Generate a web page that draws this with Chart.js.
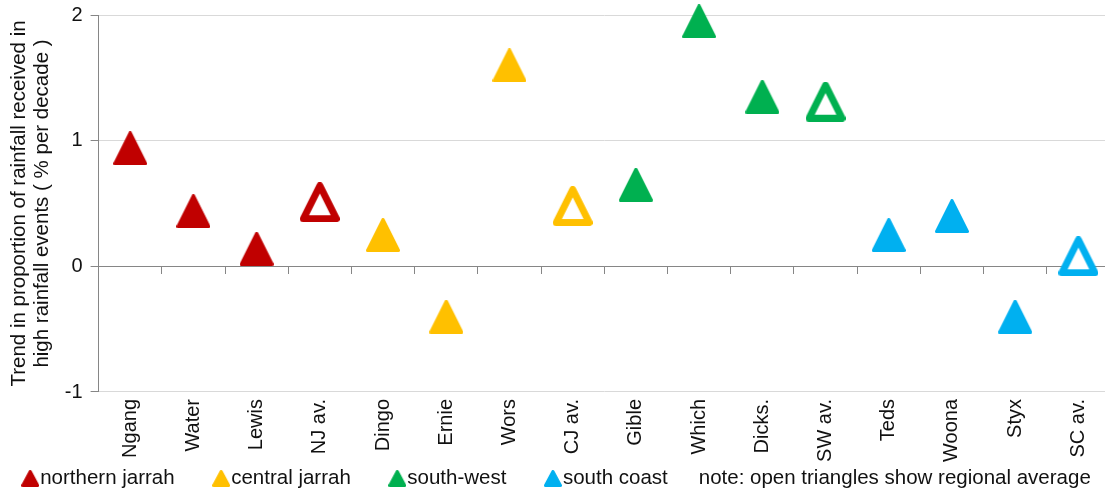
<!DOCTYPE html>
<html>
<head>
<meta charset="utf-8">
<script src="https://cdn.jsdelivr.net/npm/chart.js@4/dist/chart.umd.min.js"></script>
<style>
  html, body { margin: 0; padding: 0; background: #ffffff; overflow: hidden; }
  #wrap { width: 1112px; height: 492px; }
</style>
</head>
<body>
<div id="wrap"><canvas id="chart" width="1112" height="492"></canvas></div>
<script>
// Sites along the category axis, grouped by region
const siteLabels = ['Ngang', 'Water', 'Lewis', 'NJ av.', 'Dingo', 'Ernie', 'Wors', 'CJ av.',
                    'Gible', 'Which', 'Dicks.', 'SW av.', 'Teds', 'Woona', 'Styx', 'SC av.'];
const yTickValues = [-1, 0, 1, 2];

// Trend in proportion of rainfall received in high rainfall events (% per decade)
const northernJarrahSites = ['Ngang', 'Water', 'Lewis', 'NJ av.'];
const northernJarrahTrend = [0.94, 0.44, 0.14, 0.51];
const centralJarrahSites = ['Dingo', 'Ernie', 'Wors', 'CJ av.'];
const centralJarrahTrend = [0.25, -0.40, 1.60, 0.48];
const southWestSites = ['Gible', 'Which', 'Dicks.', 'SW av.'];
const southWestTrend = [0.65, 1.95, 1.35, 1.31];
const southCoastSites = ['Teds', 'Woona', 'Styx', 'SC av.'];
const southCoastTrend = [0.25, 0.40, -0.40, 0.08];

const regionNames = ['northern jarrah', 'central jarrah', 'south-west', 'south coast'];
const legendNote = 'note: open triangles show regional average';
const yTitleLines = ['Trend in proportion of rainfall received in', 'high rainfall events ( % per decade )'];

// Styling
const regionColours = ['#C00000', '#FFC000', '#00B050', '#00B0F0'];
const textColour = '#111111';
const gridColour = '#D9D9D9';
const axisColour = '#868686';
const fontFamily = "'Liberation Sans', Arial, sans-serif";
Chart.defaults.font.family = fontFamily;

// Triangle marker drawn on its own small canvas (apex up, base at the bottom)
function triangleCanvas(colour, hollow, w, h, lineW) {
  const c = document.createElement('canvas');
  c.width = w;
  c.height = h;
  const g = c.getContext('2d');
  const i = lineW / 2;
  g.beginPath();
  g.moveTo(w / 2, i);
  g.lineTo(w - i, h - i);
  g.lineTo(i, h - i);
  g.closePath();
  g.lineJoin = 'round';
  g.lineWidth = lineW;
  g.fillStyle = hollow ? '#ffffff' : colour;
  g.strokeStyle = colour;
  g.fill();
  g.stroke();
  return c;
}

const filledMarkers = regionColours.map(c => triangleCanvas(c, false, 34, 34, 3));
const hollowMarkers = regionColours.map(c => triangleCanvas(c, true, 40, 40, 7));
const legendMarkers = regionColours.map(c => triangleCanvas(c, false, 18, 17, 3));

const isAverage = name => name.endsWith('av.');

function regionDataset(i, sites, values) {
  return {
    label: regionNames[i],
    data: sites.map((s, k) => ({ x: s, y: values[k] })),
    showLine: false,
    clip: false,
    pointStyle: sites.map(s => isAverage(s) ? hollowMarkers[i] : filledMarkers[i]),
    pointRadius: 17,
    pointHoverRadius: 17,
    backgroundColor: regionColours[i],
    borderColor: regionColours[i]
  };
}

const datasets = [
  regionDataset(0, northernJarrahSites, northernJarrahTrend),
  regionDataset(1, centralJarrahSites, centralJarrahTrend),
  regionDataset(2, southWestSites, southWestTrend),
  regionDataset(3, southCoastSites, southCoastTrend)
];

// Legend row along the bottom: marker + name for each region, then the note
const legendRow = {
  id: 'legendRow',
  afterDraw(chart) {
    const ctx = chart.ctx;
    const markerW = 18, itemGap = 37.5, noteGap = 31;
    const cy = chart.height - 13.5;
    ctx.save();
    ctx.font = '20.5px ' + fontFamily;
    ctx.textBaseline = 'middle';
    ctx.fillStyle = textColour;
    const widths = regionNames.map(n => ctx.measureText(n).width);
    const noteW = ctx.measureText(legendNote).width;
    let total = 0;
    widths.forEach((w, i) => { total += markerW + 1 + w + (i < widths.length - 1 ? itemGap : 0); });
    total += noteGap + noteW;
    let x = (chart.width - total) / 2;
    regionNames.forEach((n, i) => {
      const m = legendMarkers[i];
      ctx.drawImage(m, x, cy - m.height / 2);
      x += markerW + 1;
      ctx.fillText(n, x, cy);
      x += widths[i] + (i < widths.length - 1 ? itemGap : noteGap);
    });
    ctx.fillText(legendNote, x, cy);
    ctx.restore();
  }
};

new Chart(document.getElementById('chart'), {
  type: 'line',
  data: { labels: siteLabels, datasets },
  plugins: [legendRow],
  options: {
    responsive: false,
    animation: false,
    layout: { autoPadding: false, padding: { top: 15, right: 2, left: 0, bottom: 23 } },
    scales: {
      x: {
        type: 'category',
        offset: true,
        grid: { display: false, drawTicks: false },
        border: { display: false },
        ticks: {
          autoSkip: false, minRotation: 90, maxRotation: 90,
          padding: 7, color: textColour, font: { size: 20 }
        },
        afterFit: s => { s.paddingLeft = 0; s.paddingRight = 0; }
      },
      x2: {
        type: 'category',
        position: { y: 0 },
        offset: true,
        grid: { offset: true, drawOnChartArea: false, drawTicks: true, tickLength: 7, color: axisColour },
        border: { color: axisColour, width: 1 },
        ticks: { display: false }
      },
      y: {
        min: -1, max: 2,
        afterBuildTicks: axis => { axis.ticks = yTickValues.map(v => ({ value: v })); },
        afterFit: s => { s.paddingTop = 0; s.paddingBottom = 0; },
        grid: {
          color: ctx => (ctx.tick && ctx.tick.value === 0) ? axisColour : gridColour,
          tickColor: axisColour, tickLength: 8, lineWidth: 1
        },
        border: { color: axisColour, width: 1 },
        ticks: { padding: 8, color: textColour, font: { size: 20 } },
        title: {
          display: true, text: yTitleLines, color: textColour,
          font: { size: 20.5, lineHeight: 1.12 },
          padding: { top: 7.5, bottom: 3.4 }
        }
      }
    },
    plugins: {
      tooltip: { enabled: false },
      legend: { display: false }
    }
  }
});
</script>
</body>
</html>
